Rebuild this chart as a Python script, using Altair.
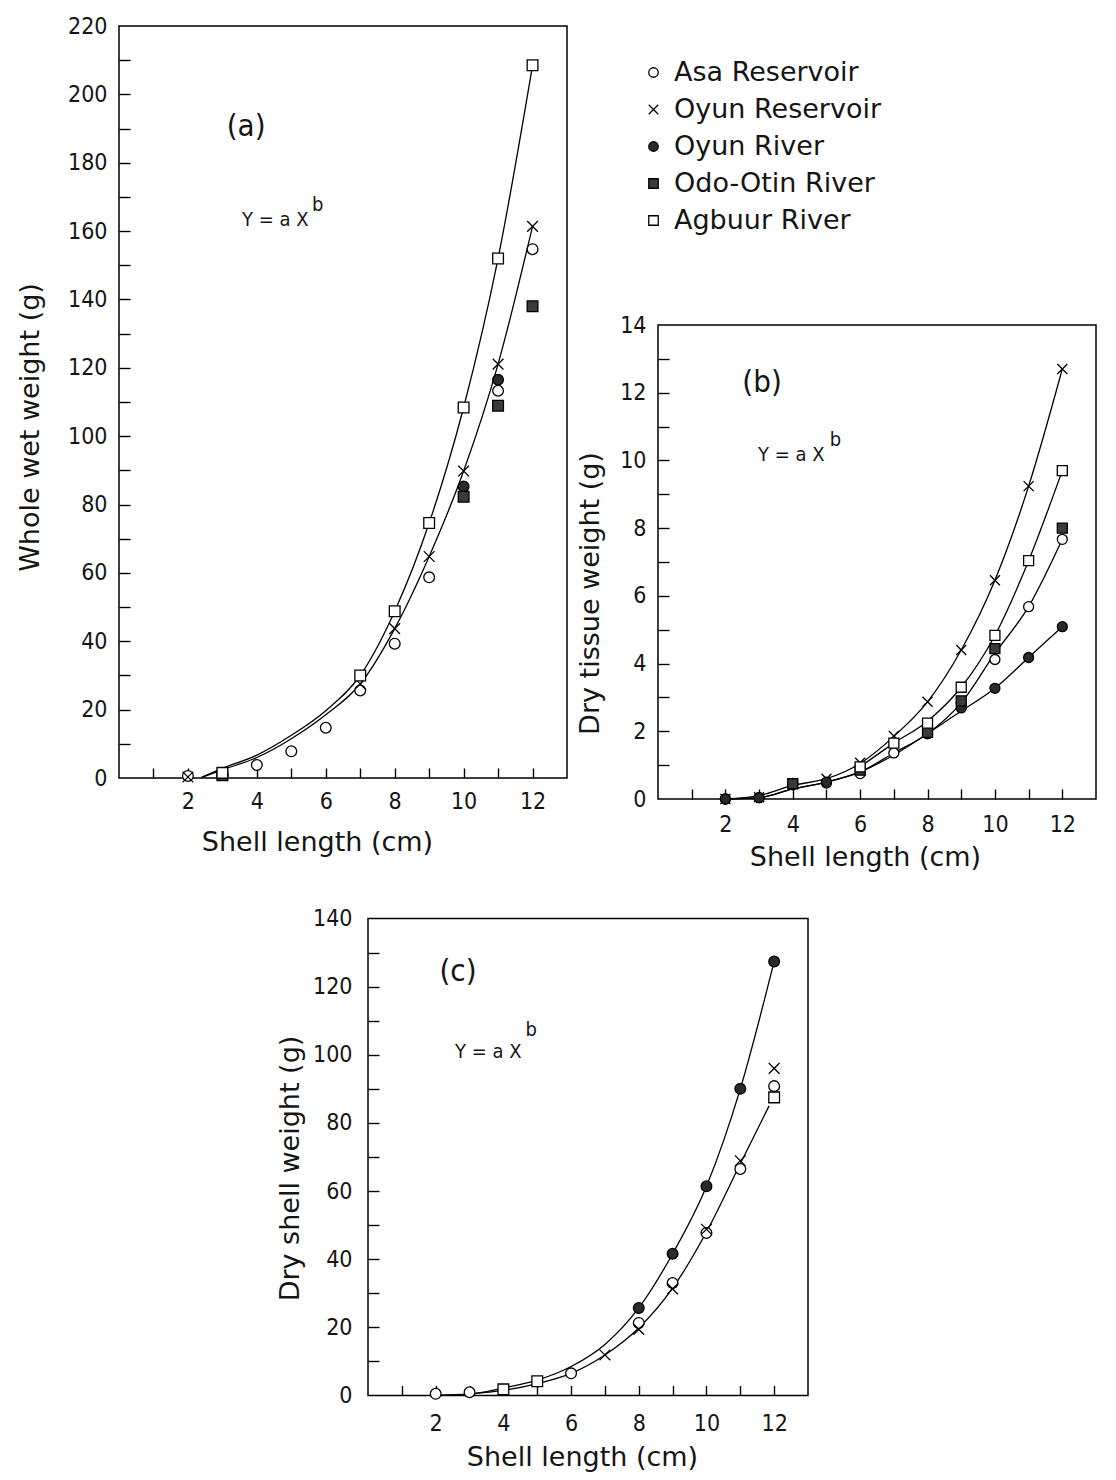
import altair as alt
import pandas as pd

# ---------------- data ----------------
SITES = ["Asa Reservoir", "Oyun Reservoir", "Oyun River", "Odo-Otin River", "Agbuur River"]
SHAPES = ["circle", "M-1,-1L1,1M-1,1L1,-1", "circle", "square", "square"]
FILLS = ["white", "transparent", "#2a2a2a", "#3a3a3a", "white"]
STROKES = ["black", "black", "black", "black", "black"]

# Panel (a): whole wet weight (g)
A_ASA_X = [2, 3, 4, 5, 6, 7, 8, 9, 11, 12]
A_ASA_Y = [0.6, 1.0, 3.8, 7.8, 14.7, 25.6, 39.3, 58.7, 113.3, 154.7]
A_OYR_X = [2, 3, 7, 8, 9, 10, 11, 12]
A_OYR_Y = [0.3, 1.2, 27.5, 43.7, 64.8, 89.8, 121.1, 161.4]
A_OYV_X = [3, 10, 11]
A_OYV_Y = [1.0, 85.3, 116.5]
A_ODO_X = [3, 10, 11, 12]
A_ODO_Y = [0.8, 82.3, 108.9, 138.0]
A_AGB_X = [3, 7, 8, 9, 10, 11, 12]
A_AGB_Y = [1.5, 30.0, 48.8, 74.6, 108.4, 152.0, 208.5]
A_UP_X = [2.4, 3, 4, 5, 6, 7, 8, 9, 10, 11, 12]
A_UP_Y = [0.2, 2.8, 6.7, 12.5, 19.7, 30.0, 48.8, 74.6, 108.4, 152.0, 208.5]
A_LO_X = [2.4, 3, 4, 5, 6, 7, 8, 9, 10, 11, 12]
A_LO_Y = [0.2, 2.4, 6.0, 11.5, 18.5, 27.5, 43.7, 64.8, 89.8, 121.1, 161.4]

# Panel (b): dry tissue weight (g)
B_ASA_X = [2, 3, 4, 5, 6, 7, 8, 9, 10, 11, 12]
B_ASA_Y = [0, 0.04, 0.42, 0.47, 0.75, 1.36, 1.93, 2.84, 4.12, 5.68, 7.67]
B_OYR_X = [2, 3, 4, 5, 6, 7, 8, 9, 10, 11, 12]
B_OYR_Y = [0, 0.05, 0.45, 0.6, 1.07, 1.86, 2.87, 4.4, 6.46, 9.24, 12.7]
B_OYV_X = [2, 3, 4, 5, 6, 8, 9, 10, 11, 12]
B_OYV_Y = [0, 0.04, 0.46, 0.5, 0.93, 1.93, 2.69, 3.27, 4.18, 5.09]
B_ODO_X = [4, 6, 8, 9, 10, 12]
B_ODO_Y = [0.45, 0.85, 1.97, 2.9, 4.44, 8.0]
B_AGB_X = [6, 7, 8, 9, 10, 11, 12]
B_AGB_Y = [0.95, 1.65, 2.24, 3.3, 4.83, 7.04, 9.7]
B_C1_X = [2, 3, 4, 5, 6, 7, 8, 9, 10, 11, 12]
B_C1_Y = [0, 0.1, 0.4, 0.6, 1.05, 1.85, 2.87, 4.4, 6.46, 9.24, 12.7]
B_C2_X = [6, 7, 8, 9, 10, 11, 12]
B_C2_Y = [0.95, 1.65, 2.3, 3.3, 4.83, 7.04, 9.7]
B_C3_X = [2, 3, 4, 5, 6, 7, 8, 9, 10, 11, 12]
B_C3_Y = [0, 0.04, 0.3, 0.5, 0.8, 1.36, 1.93, 2.84, 4.3, 5.68, 7.67]
B_C4_X = [2, 3, 4, 5, 6, 7, 8, 9, 10, 11, 12]
B_C4_Y = [0, 0.04, 0.3, 0.5, 0.8, 1.3, 1.93, 2.6, 3.27, 4.18, 5.09]

# Panel (c): dry shell weight (g)
C_ASA_X = [2, 3, 6, 8, 9, 10, 11, 12]
C_ASA_Y = [0.5, 0.95, 6.5, 21.3, 33.0, 47.7, 66.5, 90.8]
C_OYR_X = [7, 8, 9, 10, 11, 12]
C_OYR_Y = [11.9, 19.4, 31.3, 48.8, 68.9, 96.0]
C_OYV_X = [8, 9, 10, 11, 12]
C_OYV_Y = [25.7, 41.6, 61.4, 90.0, 127.4]
C_AGB_X = [4, 5, 12]
C_AGB_Y = [1.8, 4.2, 87.5]
C_UP_X = [2, 3, 4, 5, 6, 7, 8, 9, 10, 11, 12]
C_UP_Y = [0, 0.4, 2.2, 4.5, 8.5, 15.0, 25.7, 41.6, 61.4, 90.0, 127.4]
C_LO_X = [2, 3, 4, 5, 6, 7, 8, 9, 10, 11, 11.85]
C_LO_Y = [0, 0.5, 1.5, 3.5, 6.5, 11.9, 19.8, 31.5, 48.0, 68.0, 85.0]

# axis domains, ticks and labels
A_XDOM, A_YDOM = [0, 13], [0, 220]
B_XDOM, B_YDOM = [0, 13], [0, 14]
C_XDOM, C_YDOM = [0, 13], [0, 140]
X_TICKS = list(range(1, 13))
X_LABELS = [2, 4, 6, 8, 10, 12]
A_YTICKS = list(range(10, 220, 10))
A_YLABELS = list(range(0, 221, 20))
B_YTICKS = list(range(1, 14))
B_YLABELS = list(range(0, 15, 2))
C_YTICKS = list(range(10, 140, 10))
C_YLABELS = list(range(0, 141, 20))

# ---------------- layout ----------------
W, H = 1100, 1464
COND = "DejaVu Sans Condensed, DejaVu Sans, sans-serif"
SANS = "DejaVu Sans, Liberation Sans, sans-serif"
INK = "#151515"


def points_df(entries):
    rows = []
    for site, xs, ys in entries:
        for x, y in zip(xs, ys):
            rows.append({"site": site, "x": x, "y": y})
    return pd.DataFrame(rows)


def curves_df(entries):
    rows = []
    for name, xs, ys in entries:
        for x, y in zip(xs, ys):
            rows.append({"curve": name, "x": x, "y": y})
    return pd.DataFrame(rows)


LEGEND = alt.Legend(
    orient="none", legendX=632, legendY=51, title=None,
    labelFont=SANS, labelFontSize=27, labelColor=INK, labelLimit=400,
    symbolSize=90, symbolStrokeWidth=1.3, symbolStrokeColor="black",
    symbolOpacity=1, rowPadding=9, labelOffset=7, padding=0,
)


def panel(pts, crv, xdom, ydom, xr, yr, yticks, ylabels, xtitle, ytitle,
          xt_pos, yt_pos, xlab_pad, ylab_pad, tag, tag_pos, eq_pos, sup_pos, psize):
    xs = alt.Scale(domain=xdom, range=xr, nice=False, zero=False)
    ys = alt.Scale(domain=ydom, range=yr, nice=False, zero=False)
    frame_df = pd.DataFrame({"x0": [xdom[0]], "x1": [xdom[1]], "y0": [ydom[0]], "y1": [ydom[1]]})
    frame = alt.Chart(frame_df).mark_rect(fillOpacity=0, stroke="black", strokeWidth=1.5).encode(
        x=alt.X("x0:Q", scale=xs, axis=alt.Axis(
            orient="top", offset=-yr[0], values=X_TICKS, labels=False, domain=False,
            grid=False, tickSize=10, tickWidth=1.4, tickColor="black", title=None)),
        x2="x1:Q",
        y=alt.Y("y0:Q", scale=ys, axis=alt.Axis(
            orient="right", offset=xr[0] - W, values=yticks, labels=False, domain=False,
            grid=False, tickSize=11, tickWidth=1.4, tickColor="black", title=None)),
        y2="y1:Q",
    )
    lines = alt.Chart(crv).mark_line(color="black", strokeWidth=1.3, interpolate="monotone").encode(
        x=alt.X("x:Q", scale=xs, axis=None),
        y=alt.Y("y:Q", scale=ys, axis=None),
        detail="curve:N",
    )
    marks = alt.Chart(pts).mark_point(filled=False, size=psize, strokeWidth=1.3, opacity=1).encode(
        x=alt.X("x:Q", scale=xs, axis=alt.Axis(
            orient="bottom", offset=yr[0] - H, values=X_LABELS, ticks=False, domain=False,
            grid=False, labelPadding=xlab_pad, labelFont=COND, labelFontSize=23,
            labelColor=INK, labelOverlap=False, labelFlush=False,
            title=xtitle, titleFont=SANS, titleFontSize=27, titleFontWeight="normal",
            titleColor=INK, titleX=xt_pos[0], titleY=xt_pos[1] - yr[0],
            titleAlign="center", titleBaseline="middle", titleAngle=0)),
        y=alt.Y("y:Q", scale=ys, axis=alt.Axis(
            orient="left", offset=-xr[0], values=ylabels, ticks=False, domain=False,
            grid=False, labelPadding=ylab_pad, labelFont=COND, labelFontSize=23,
            labelColor=INK, labelOverlap=False, labelFlush=False,
            title=ytitle, titleFont=SANS, titleFontSize=27, titleFontWeight="normal",
            titleColor=INK, titleX=yt_pos[0] - xr[0], titleY=yt_pos[1],
            titleAlign="center", titleBaseline="middle", titleAngle=270)),
        shape=alt.Shape("site:N", scale=alt.Scale(domain=SITES, range=SHAPES), legend=LEGEND),
        fill=alt.Fill("site:N", scale=alt.Scale(domain=SITES, range=FILLS), legend=LEGEND),
        stroke=alt.Stroke("site:N", scale=alt.Scale(domain=SITES, range=STROKES), legend=LEGEND),
    )

    def txt(pos, text, size, align):
        d = pd.DataFrame({"x": [pos[0]], "y": [pos[1]], "t": [text]})
        return alt.Chart(d).mark_text(font=COND, fontSize=size, align=align,
                                      baseline="middle", color=INK).encode(
            x=alt.X("x:Q", scale=xs, axis=None),
            y=alt.Y("y:Q", scale=ys, axis=None),
            text="t:N",
        )

    return alt.layer(
        frame, lines, marks,
        txt(tag_pos, tag, 31, "center"),
        txt(eq_pos, "Y = a X", 20, "left"),
        txt(sup_pos, "b", 20, "left"),
    ).resolve_axis(x="independent", y="independent")


pa = panel(
    points_df([("Asa Reservoir", A_ASA_X, A_ASA_Y), ("Oyun Reservoir", A_OYR_X, A_OYR_Y),
               ("Oyun River", A_OYV_X, A_OYV_Y), ("Odo-Otin River", A_ODO_X, A_ODO_Y),
               ("Agbuur River", A_AGB_X, A_AGB_Y)]),
    curves_df([("up", A_UP_X, A_UP_Y), ("lo", A_LO_X, A_LO_Y)]),
    A_XDOM, A_YDOM, [111, 559], [770, 18], A_YTICKS, A_YLABELS,
    "Shell length (cm)", "Whole wet weight (g)",
    (309, 834), (22, 419), 12, 12,
    "(a)", (3.69, 190.5), (3.57, 163.3), (5.6, 167.6), 115,
)

pb = panel(
    points_df([("Asa Reservoir", B_ASA_X, B_ASA_Y), ("Oyun Reservoir", B_OYR_X, B_OYR_Y),
               ("Oyun River", B_OYV_X, B_OYV_Y), ("Odo-Otin River", B_ODO_X, B_ODO_Y),
               ("Agbuur River", B_AGB_X, B_AGB_Y)]),
    curves_df([("c1", B_C1_X, B_C1_Y), ("c2", B_C2_X, B_C2_Y),
               ("c3", B_C3_X, B_C3_Y), ("c4", B_C4_X, B_C4_Y)]),
    B_XDOM, B_YDOM, [650, 1088], [791, 317], B_YTICKS, B_YLABELS,
    "Shell length (cm)", "Dry tissue weight (g)",
    (857, 849), (582, 585), 14, 12,
    "(b)", (3.09, 12.29), (2.97, 10.16), (5.1, 10.6), 100,
)

pc = panel(
    points_df([("Asa Reservoir", C_ASA_X, C_ASA_Y), ("Oyun Reservoir", C_OYR_X, C_OYR_Y),
               ("Oyun River", C_OYV_X, C_OYV_Y), ("Agbuur River", C_AGB_X, C_AGB_Y)]),
    curves_df([("up", C_UP_X, C_UP_Y), ("lo", C_LO_X, C_LO_Y)]),
    C_XDOM, C_YDOM, [360, 800], [1387.5, 910.5], C_YTICKS, C_YLABELS,
    "Shell length (cm)", "Dry shell weight (g)",
    (574, 1449), (282, 1160), 17, 16,
    "(c)", (2.66, 124.3), (2.57, 100.8), (4.65, 107.3), 115,
)

chart = alt.layer(pa, pb, pc).resolve_scale(
    x="independent", y="independent"
).properties(
    width=W, height=H, padding=0,
    autosize=alt.AutoSizeParams(type="none"),
).configure_view(stroke="transparent")

chart.save("out.html", embed_options={"renderer": "svg", "actions": False})
